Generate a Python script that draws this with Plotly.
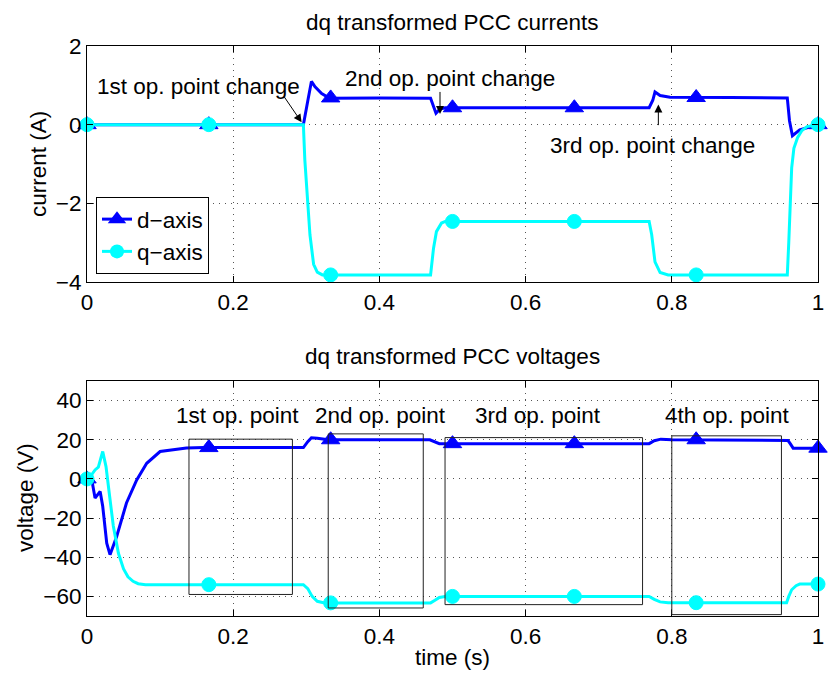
import plotly.graph_objects as go

# ---------------- data ----------------
# PCC currents, d-axis
id_t = [0, 0.296, 0.302, 0.307, 0.312, 0.321, 0.332, 0.40, 0.470, 0.4747, 0.4774, 0.483, 0.490,
        0.60, 0.769, 0.774, 0.777, 0.784, 0.7976, 0.88, 0.958, 0.961, 0.965, 0.975, 0.986, 1.0]
id_v = [0, 0, 0.6, 1.1, 0.96, 0.79, 0.67, 0.68, 0.67, 0.44, 0.29, 0.40, 0.43,
        0.43, 0.43, 0.62, 0.83, 0.74, 0.70, 0.69, 0.68, 0.1, -0.28, -0.13, -0.07, 0]
# PCC currents, q-axis
iq_t = [0, 0.296, 0.298, 0.302, 0.305, 0.310, 0.315, 0.322, 0.33, 0.470, 0.474, 0.478, 0.485,
        0.49, 0.769, 0.7725, 0.777, 0.784, 0.795, 0.958, 0.960, 0.962, 0.964, 0.967, 0.972,
        0.978, 0.985, 1.0]
iq_v = [0, 0, -0.9, -2.0, -2.8, -3.55, -3.75, -3.82, -3.82, -3.82, -3.15, -2.72, -2.5,
        -2.46, -2.46, -2.8, -3.49, -3.76, -3.82, -3.82, -3.0, -2.0, -1.1, -0.6, -0.33,
        -0.15, -0.05, 0]
# PCC voltages, d-axis
vd_t = [0, 0.004, 0.0073, 0.011, 0.018, 0.0215, 0.027, 0.0315, 0.0406, 0.054, 0.068, 0.0817,
        0.1, 0.12, 0.136, 0.16, 0.296, 0.302, 0.307, 0.315, 0.33, 0.469, 0.475, 0.482, 0.49,
        0.769, 0.776, 0.785, 0.80, 0.959, 0.962, 0.966, 1.0]
vd_v = [0, 2, -2, -9.8, -6.4, -14, -32.8, -38.7, -29.4, -12.3, -0.5, 8,
        14, 15.2, 15.8, 16, 16, 19, 21, 20.8, 20, 20, 19, 18, 18,
        18, 19.5, 20.3, 20, 19.6, 18, 15.7, 15.7]
# PCC voltages, q-axis
vq_t = [0, 0.006, 0.011, 0.0155, 0.0215, 0.026, 0.031, 0.036, 0.043, 0.05, 0.056, 0.063, 0.07,
        0.08, 0.296, 0.302, 0.308, 0.315, 0.325, 0.47, 0.476, 0.482, 0.49, 0.769, 0.776,
        0.784, 0.795, 0.957, 0.960, 0.964, 0.970, 0.975, 1.0]
vq_v = [0, 2, 4.6, 6, 14, 6.3, -9, -24, -38, -46, -50, -52.3, -53.5,
        -54, -54, -56, -60, -62.5, -63.3, -63.3, -62, -60.5, -60, -60, -61.5,
        -62.8, -63.2, -63.2, -60, -56.6, -54.5, -53.7, -53.7]

# marker positions (every 1/6 s)
mk_t = [0, 1/6, 2/6, 3/6, 4/6, 5/6, 1.0]
mk_id = [0, 0, 0.68, 0.43, 0.43, 0.69, 0]
mk_iq = [0, 0, -3.82, -2.46, -2.46, -3.82, 0]
mk_vd = [0, 16, 20, 18, 18, 20, 15.7]
mk_vq = [0, -54, -63.3, -60, -60, -63.2, -53.7]

# operating-point boxes (t0, t1, v_bottom, v_top) and labels
box_t0 = [0.1395, 0.330, 0.4898, 0.800]
box_t1 = [0.281, 0.460, 0.760, 0.950]
box_lo = [-59, -65.9, -64.2, -69.3]
box_hi = [20.3, 23, 21.1, 22]
box_labels = ["1st op. point", "2nd op. point", "3rd op. point", "4th op. point"]
box_label_t = [0.206, 0.401, 0.617, 0.876]

titles = ["dq transformed PCC currents", "dq transformed PCC voltages"]
xticks = [0, 0.2, 0.4, 0.6, 0.8, 1]
iticks = [-4, -2, 0, 2]
vticks = [-60, -40, -20, 0, 20, 40]

# ---------------- styling ----------------
BLUE = "#0000FF"
CYAN = "#00FFFF"
FONT = "Liberation Sans, Arial, Helvetica, sans-serif"
FS = 22.5
W, H = 830, 675

fig = go.Figure()

def add_series(t, v, mt, mv, color, symbol, msize, xa, ya, name, legend):
    fig.add_trace(go.Scatter(x=t, y=v, mode="lines", line=dict(color=color, width=3),
                             xaxis=xa, yaxis=ya, showlegend=False, hoverinfo="skip"))
    fig.add_trace(go.Scatter(x=mt, y=mv, mode="markers", cliponaxis=False,
                             marker=dict(symbol=symbol, size=msize, color=color,
                                         line=dict(color=color, width=1)),
                             xaxis=xa, yaxis=ya, showlegend=False, hoverinfo="skip"))
    if legend:
        fig.add_trace(go.Scatter(x=[None], y=[None], mode="lines+markers", name=name,
                                 line=dict(color=color, width=3),
                                 marker=dict(symbol=symbol, size=msize, color=color),
                                 xaxis=xa, yaxis=ya, showlegend=True))

add_series(id_t, id_v, mk_t, mk_id, BLUE, "triangle-up", 16, "x", "y", "d\u2212axis", True)
add_series(iq_t, iq_v, mk_t, mk_iq, CYAN, "circle", 14, "x", "y", "q\u2212axis", True)
add_series(vd_t, vd_v, mk_t, mk_vd, BLUE, "triangle-up", 16, "x2", "y2", "", False)
add_series(vq_t, vq_v, mk_t, mk_vq, CYAN, "circle", 14, "x2", "y2", "", False)

def px_x(p):
    return p / W

def px_y(p):
    return 1 - p / H

axis_common = dict(showline=True, linecolor="black", linewidth=1, mirror="ticks",
                   ticks="inside", ticklen=6, tickcolor="black", tickwidth=1,
                   showgrid=True, gridcolor="#555555", gridwidth=1, griddash="1px,5px",
                   zeroline=False, tickfont=dict(family=FONT, size=FS, color="black"),
                   fixedrange=True, automargin=False)

top_dom = [px_y(282), px_y(46)]
bot_dom = [px_y(616), px_y(381)]
x_dom = [px_x(87), px_x(818)]

fig.update_layout(
    width=W, height=H, margin=dict(l=0, r=0, t=0, b=0, autoexpand=False),
    paper_bgcolor="white", plot_bgcolor="white",
    font=dict(family=FONT, size=FS, color="black"),
    xaxis=dict(domain=x_dom, range=[0, 1], tickvals=xticks, anchor="y", **axis_common),
    yaxis=dict(domain=top_dom, range=[-4, 2], tickvals=iticks, anchor="x", **axis_common),
    xaxis2=dict(domain=x_dom, range=[0, 1], tickvals=xticks, anchor="y2", **axis_common),
    yaxis2=dict(domain=bot_dom, range=[-70, 50], tickvals=vticks, anchor="x2", **axis_common),
    legend=dict(x=px_x(96), y=px_y(274), xanchor="left", yanchor="bottom",
                bgcolor="white", bordercolor="black", borderwidth=1,
                font=dict(family=FONT, size=FS, color="black"),
                tracegroupgap=0, itemsizing="trace"),
    showlegend=True,
)

annotations = []
# subplot titles
xc = 0.5 * (x_dom[0] + x_dom[1])
annotations.append(dict(text=titles[0], x=xc, y=px_y(22), xref="paper", yref="paper",
                        showarrow=False, xanchor="center", yanchor="middle", font=dict(size=FS)))
annotations.append(dict(text=titles[1], x=xc, y=px_y(356), xref="paper", yref="paper",
                        showarrow=False, xanchor="center", yanchor="middle", font=dict(size=FS)))
# axis labels
annotations.append(dict(text="time (s)", x=xc, y=px_y(657), xref="paper", yref="paper",
                        showarrow=False, xanchor="center", yanchor="middle", font=dict(size=FS)))
annotations.append(dict(text="current (A)", x=px_x(39), y=px_y(164), xref="paper", yref="paper",
                        showarrow=False, xanchor="center", yanchor="middle", textangle=-90,
                        font=dict(size=FS)))
annotations.append(dict(text="voltage (V)", x=px_x(25), y=px_y(498), xref="paper", yref="paper",
                        showarrow=False, xanchor="center", yanchor="middle", textangle=-90,
                        font=dict(size=FS)))
# op-point change labels (top)
chg_text = ["1st op. point change", "2nd op. point change", "3rd op. point change"]
chg_tx = [0.152, 0.4966, 0.773]
chg_ty = [0.97, 1.18, -0.54]
for s, tx, ty in zip(chg_text, chg_tx, chg_ty):
    annotations.append(dict(text=s, x=tx, y=ty, xref="x", yref="y", showarrow=False,
                            xanchor="center", yanchor="middle", font=dict(size=FS)))
# arrows (tail -> head)
arr_tail_t = [0.2686, 0.4829, 0.7816]
arr_tail_v = [0.74, 0.87, -0.05]
arr_head_t = [0.2936, 0.4829, 0.7816]
arr_head_v = [0.06, 0.27, 0.51]
for a, b, c, d in zip(arr_tail_t, arr_tail_v, arr_head_t, arr_head_v):
    annotations.append(dict(text="", x=c, y=d, ax=a, ay=b, xref="x", yref="y",
                            axref="x", ayref="y", showarrow=True, arrowhead=2,
                            arrowsize=1.6, arrowwidth=1, arrowcolor="black"))
# op-point labels (bottom)
for s, tx in zip(box_labels, box_label_t):
    annotations.append(dict(text=s, x=tx, y=32.5, xref="x2", yref="y2", showarrow=False,
                            xanchor="center", yanchor="middle", font=dict(size=FS)))
fig.update_layout(annotations=annotations)

shapes = []
for t0, t1, lo, hi in zip(box_t0, box_t1, box_lo, box_hi):
    shapes.append(dict(type="rect", x0=t0, x1=t1, y0=lo, y1=hi, xref="x2", yref="y2",
                       line=dict(color="#222222", width=1), fillcolor="rgba(0,0,0,0)",
                       layer="above"))
fig.update_layout(shapes=shapes)

fig.write_html("out.html")
